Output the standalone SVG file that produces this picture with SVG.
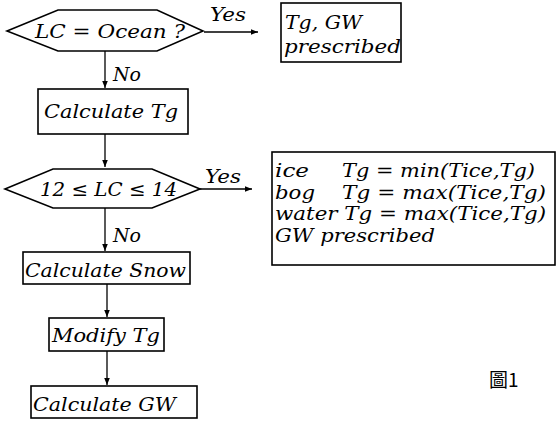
<svg xmlns="http://www.w3.org/2000/svg" width="558" height="423" viewBox="0 0 558 423">
<defs>
<marker id="ah" viewBox="0 0 10 10" refX="10" refY="5" markerWidth="7" markerHeight="7" markerUnits="userSpaceOnUse" orient="auto">
<path d="M0,1 L10,5 L0,9 Z" fill="#000"/>
</marker>
</defs>
<style>
.shape{fill:#fff;stroke:#000;stroke-width:1.6}
.edge{fill:none;stroke:#000;stroke-width:1.3;marker-end:url(#ah)}
text{font-family:"DejaVu Serif","Liberation Serif",serif;font-style:italic;font-size:19px;fill:#000}
</style>
<rect width="558" height="423" fill="#fff"/>
<g id="connectors">
<line class="edge" x1="204" y1="32" x2="258" y2="32"/>
<line class="edge" x1="105" y1="51" x2="105" y2="88"/>
<line class="edge" x1="105" y1="134" x2="105" y2="167"/>
<line class="edge" x1="200" y1="189" x2="252" y2="189"/>
<line class="edge" x1="105" y1="208" x2="105" y2="251"/>
<line class="edge" x1="107" y1="284" x2="107" y2="317"/>
<line class="edge" x1="107" y1="351" x2="107" y2="385"/>
<text x="210" y="21" textLength="36" lengthAdjust="spacingAndGlyphs">Yes</text>
<text x="113" y="81" textLength="28" lengthAdjust="spacingAndGlyphs">No</text>
<text x="205" y="183" textLength="36" lengthAdjust="spacingAndGlyphs">Yes</text>
<text x="113" y="242" textLength="28" lengthAdjust="spacingAndGlyphs">No</text>
</g>
<g id="n_ocean">
<polygon class="shape" points="7,31 58,10 157,10 203,31 157,51 58,51"/>
<text x="35" y="38" textLength="150" lengthAdjust="spacingAndGlyphs">LC = Ocean ?</text>
</g>
<g id="n_prescribed">
<rect class="shape" x="281" y="3" width="120" height="59"/>
<text x="285" y="29" textLength="77" lengthAdjust="spacingAndGlyphs">Tg, GW</text>
<text x="284" y="53" textLength="117" lengthAdjust="spacingAndGlyphs">prescribed</text>
</g>
<g id="n_calctg">
<rect class="shape" x="38" y="89" width="150" height="45"/>
<text x="44" y="118" textLength="134" lengthAdjust="spacingAndGlyphs">Calculate Tg</text>
</g>
<g id="n_lc1214">
<polygon class="shape" points="5,189 53,169 152,169 200,189 152,208 53,208"/>
<text x="40" y="196" textLength="137" lengthAdjust="spacingAndGlyphs">12 ≤ LC ≤ 14</text>
</g>
<g id="n_rules">
<rect class="shape" x="272" y="152" width="283" height="113"/>
<text x="275" y="177" textLength="34" lengthAdjust="spacingAndGlyphs">ice</text>
<text x="342" y="177" textLength="193" lengthAdjust="spacingAndGlyphs">Tg = min(Tice,Tg)</text>
<text x="275" y="199" textLength="40" lengthAdjust="spacingAndGlyphs">bog</text>
<text x="342" y="199" textLength="204" lengthAdjust="spacingAndGlyphs">Tg = max(Tice,Tg)</text>
<text x="275" y="220" textLength="271" lengthAdjust="spacingAndGlyphs">water Tg = max(Tice,Tg)</text>
<text x="275" y="242" textLength="160" lengthAdjust="spacingAndGlyphs">GW prescribed</text>
</g>
<g id="n_snow">
<rect class="shape" x="23" y="252" width="167" height="32"/>
<text x="25" y="277" textLength="161" lengthAdjust="spacingAndGlyphs">Calculate Snow</text>
</g>
<g id="n_modify">
<rect class="shape" x="49" y="318" width="115" height="33"/>
<text x="52" y="342" textLength="108" lengthAdjust="spacingAndGlyphs">Modify Tg</text>
</g>
<g id="n_calcgw">
<rect class="shape" x="31" y="386" width="166" height="32"/>
<text x="33" y="411" textLength="143" lengthAdjust="spacingAndGlyphs">Calculate GW</text>
</g>
<text x="489" y="387" style="font-family:'Noto Sans CJK TC','Noto Sans CJK SC',sans-serif;font-style:normal;font-size:19px">圖1</text>
</svg>
